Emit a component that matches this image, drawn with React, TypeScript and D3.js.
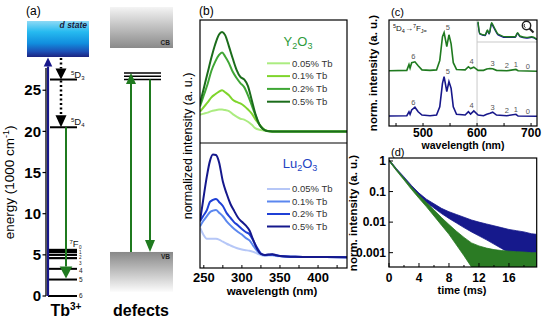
import React from 'react';
import * as d3 from 'd3';

const FONT = "'Liberation Sans', Arial, Helvetica, sans-serif";

// ---------- (a) energy level diagram ----------
const energyTicks = [0, 5, 10, 15, 20, 25];
const tbFLabels = ['6', '5', '4', '3', '2', '1', '0'];
const tbFEnergies = [0, 2.0, 3.3, 4.6, 5.0, 5.35, 5.6];
const tbDLabels = ['3', '4'];
const tbDEnergies = [26.3, 20.5];
const defectEnergies = [26.3, 26.7, 27.1];
const vbTopEnergy = 5.35;

// ---------- (b) excitation spectra ----------
const excWlY = [245, 250, 255, 260, 265, 270, 274, 278, 283, 288, 293, 298, 303, 308, 313, 318, 323, 328, 333, 340, 360, 380, 400, 420, 438];
const excY005 = [.17, .18, .19, .205, .213, .22, .22, .215, .205, .175, .15, .13, .122, .1, .07, .035, .022, .015, .01, .006, .005, .005, .005, .005, .005];
const excY01 = [.2, .245, .29, .34, .37, .395, .41, .39, .36, .315, .295, .28, .255, .22, .18, .12, .075, .032, .012, .006, .005, .005, .005, .005, .005];
const excY02 = [.25, .36, .47, .6, .69, .755, .78, .74, .675, .59, .53, .48, .44, .36, .26, .16, .07, .03, .01, .006, .005, .005, .005, .005, .005];
const excY05 = [.28, .43, .58, .73, .86, .955, .98, .95, .84, .72, .61, .54, .515, .45, .31, .17, .074, .028, .01, .006, .005, .005, .005, .005, .005];

const excWlL = [245, 249, 254, 258, 262, 266, 270, 275, 280, 285, 290, 295, 300, 305, 310, 315, 320, 325, 330, 335, 340, 345, 350, 370, 390, 410, 438];
const excL005 = [.28, .215, .17, .17, .17, .168, .16, .14, .12, .103, .087, .073, .063, .057, .051, .04, .025, .01, 0, .004, .006, 0, -.003, -.008, -.01, -.01, -.012];
const excL01 = [.29, .34, .39, .43, .445, .45, .425, .39, .34, .30, .265, .235, .21, .178, .153, .10, .05, .018, .008, .009, .011, .005, 0, -.008, -.01, -.01, -.012];
const excL02 = [.34, .39, .45, .53, .55, .56, .53, .49, .42, .375, .33, .30, .265, .235, .213, .15, .08, .025, .01, .012, .015, .007, 0, -.008, -.01, -.01, -.012];
const excL05 = [.34, .54, .78, .93, .995, .99, .92, .73, .61, .51, .44, .375, .335, .30, .25, .155, .07, .02, .01, .015, .018, .008, 0, -.008, -.01, -.01, -.012];

const concLabels = ['0.05% Tb', '0.1% Tb', '0.2% Tb', '0.5% Tb'];
const excTicks = [250, 300, 350, 400];

// ---------- (c) emission spectra ----------
const emWl = [437, 470, 474, 476, 479, 485, 491, 498, 513, 525, 531, 536, 539, 544, 548, 552, 556, 562, 578, 584, 588, 594, 602, 612, 618, 624, 629, 636, 655, 672, 676, 711];
const emLu = [.015, .022, .11, .053, .15, .21, .11, .037, .022, .037, .22, .74, .89, .56, .78, .63, .22, .053, .037, .11, .06, .13, .037, .022, .053, .075, .1, .037, .022, .053, .015, .01];
const emY = [.02, .03, .16, .08, .2, .22, .13, .04, .03, .04, .25, .78, .87, .56, .82, .62, .2, .05, .04, .11, .07, .1, .03, .03, .06, .07, .067, .03, .02, .05, .02, .01];
const emPeakLabels = ['6', '5', '4', '3', '2', '1', '0'];
const emPeakWl = [482, 546, 590, 629, 655, 672, 694];
const emTicks = [500, 600, 700];
const insetWl = [600, 603, 612, 616, 619, 623, 627, 634, 649, 663, 667, 671, 682, 691, 700];
const insetY = [.92, .33, .25, .5, .33, .86, .66, .3, .16, .16, .37, .2, .13, .16, .03];
const insetLu = [.88, .3, .22, .45, .3, .8, .6, .26, .13, .13, .33, .17, .1, .13, .02];

// ---------- (d) decay curves (log10 of normalized intensity) ----------
const decayT = [0, 0.5, 1, 2, 3, 4, 5, 6, 7, 8, 9, 10, 11, 12, 13, 14, 15, 16, 17, 18, 19, 19.7];
const blueUpper = [0.04, -0.1, -0.25, -0.52, -0.8, -1.05, -1.25, -1.4, -1.55, -1.66, -1.75, -1.84, -1.93, -2.0, -2.06, -2.12, -2.18, -2.24, -2.28, -2.32, -2.38, -2.4];
const blueLower = [0.0, -0.15, -0.3, -0.58, -0.87, -1.14, -1.36, -1.54, -1.72, -1.88, -2.03, -2.18, -2.32, -2.45, -2.58, -2.72, -2.86, -3.0, -3.15, -3.3, -3.47, -3.47];
const greenUpper = [0.04, -0.11, -0.27, -0.56, -0.85, -1.12, -1.36, -1.6, -1.85, -2.08, -2.3, -2.5, -2.68, -2.78, -2.85, -2.9, -2.93, -2.95, -2.97, -2.98, -3.0, -3.0];
const greenLower = [0.0, -0.16, -0.32, -0.62, -0.93, -1.22, -1.5, -1.8, -2.1, -2.4, -2.75, -3.1, -3.47, -3.47, -3.47, -3.47, -3.47, -3.47, -3.47, -3.47, -3.47, -3.47];
const decayXTicks = [0, 4, 8, 12, 16];
const decayYTicks = [1, 0.1, 0.01, 0.001];
const decayYLabels = ['1', '0.1', '0.01', '0.001'];

const greenShades = ['#abec80', '#7fd52c', '#3fa635', '#1b6c1b'];
const blueShades = ['#b6c7f7', '#5b87ef', '#1f40d6', '#15188c'];
const GREEN = '#1f7a1f';
const NAVY = '#17178a';

function Arrow({ x, y1, y2, color, hw, hl, w, dash }: any) {
  const dir = y2 > y1 ? 1 : -1;
  const base = y2 - dir * hl;
  return (
    <g>
      <line x1={x} x2={x} y1={y1} y2={base} stroke={color} strokeWidth={w} strokeDasharray={dash} />
      <path d={`M${x - hw},${base} L${x + hw},${base} L${x},${y2} Z`} fill={color} />
    </g>
  );
}

export default function App() {
  // ---- (a)
  const eY = d3.scaleLinear().domain([0, 27.7]).range([296, 68]);

  // ---- (b)
  const xB = d3.scaleLinear().domain([245, 438]).range([200, 347]);
  const yBtop = d3.scaleLinear().domain([0, 1]).range([132, 30]);
  const yBbot = d3.scaleLinear().domain([0, 1]).range([256, 154]);
  const lineBtop = d3.line<number>().x((_, i) => xB(excWlY[i])).y(d => yBtop(d)).curve(d3.curveMonotoneX);
  const lineBbot = d3.line<number>().x((_, i) => xB(excWlL[i])).y(d => yBbot(d)).curve(d3.curveMonotoneX);
  const ySeries = [excY005, excY01, excY02, excY05];
  const lSeries = [excL005, excL01, excL02, excL05];

  // ---- (c)
  const xC = d3.scaleLinear().domain([437, 711]).range([389, 537]);
  const yC = d3.scaleLinear().domain([0, 1]).range([116.7, 71.7]);
  const lineCLu = d3.line<number>().x((_, i) => xC(emWl[i])).y(d => yC(d));
  const lineCY = d3.line<number>().x((_, i) => xC(emWl[i])).y(d => yC(d + 1));
  const xIn = d3.scaleLinear().domain([600, 700]).range([478, 537]);
  const yIn = d3.scaleLinear().domain([0, 1]).range([40, 20]);
  const lineIn = d3.line<number>().x((_, i) => xIn(insetWl[i])).y(d => yIn(d)).curve(d3.curveMonotoneX);
  const peakMax = (arr: number[], wl: number) => {
    let m = 0;
    emWl.forEach((w, i) => { if (Math.abs(w - wl) <= 8 && arr[i] > m) m = arr[i]; });
    return m;
  };

  // ---- (d)
  const xD = d3.scaleLinear().domain([0, 19.7]).range([389, 536.7]);
  const yD = d3.scaleLog().domain([Math.pow(10, -3.469), Math.pow(10, 0.098)]).range([267, 158]);
  const areaD = (up: number[], lo: number[]) =>
    d3.area<number>().x((_, i) => xD(decayT[i])).y0((_, i) => yD(Math.pow(10, lo[i]))).y1((_, i) => yD(Math.pow(10, up[i])))(decayT);

  const tickFont = { fontFamily: FONT, fontWeight: 700 as const };

  return (
    <svg width={550} height={322} viewBox="0 0 550 322"
      style={{ position: 'absolute', left: 0, top: 0, background: '#fff' }} fontFamily={FONT}>
      <defs>
        <linearGradient id="dGrad" x1="0" y1="0" x2="0" y2="1">
          <stop offset="0%" stopColor="#8edaf5" />
          <stop offset="30%" stopColor="#26baf0" />
          <stop offset="62%" stopColor="#118ede" />
          <stop offset="85%" stopColor="#1d4fb5" />
          <stop offset="100%" stopColor="#1c2380" />
        </linearGradient>
        <linearGradient id="cbGrad" x1="0" y1="0" x2="0" y2="1">
          <stop offset="0%" stopColor="#f4f4f4" />
          <stop offset="100%" stopColor="#8a8a8a" />
        </linearGradient>
        <linearGradient id="vbGrad" x1="0" y1="0" x2="0" y2="1">
          <stop offset="0%" stopColor="#888" />
          <stop offset="100%" stopColor="#fcfcfc" />
        </linearGradient>
        <clipPath id="clipBtop"><rect x={200} y={20} width={147} height={123} /></clipPath>
        <clipPath id="clipBbot"><rect x={200} y={143} width={147} height={125} /></clipPath>
        <clipPath id="clipC"><rect x={389} y={20} width={148} height={106} /></clipPath>
        <clipPath id="clipD"><rect x={389} y={158} width={147.7} height={109} /></clipPath>
      </defs>

      {/* ================= (a) ================= */}
      <text x={26} y={15} fontSize={12}>(a)</text>
      <rect x={27} y={21} width={62} height={36} fill="url(#dGrad)" />
      <text x={87} y={28} fontSize={8.5} fontStyle="italic" fontWeight={700} textAnchor="end" fill="#1b1b3a">d state</text>

      <line x1={46} x2={46} y1={eY(27.7)} y2={eY(0)} stroke="#000" strokeWidth={1.3} />
      {energyTicks.map(t => (
        <g key={t}>
          <line x1={42.5} x2={46} y1={eY(t)} y2={eY(t)} stroke="#000" strokeWidth={1.2} />
          <text x={41} y={eY(t)} dy="0.35em" fontSize={15} textAnchor="end" {...tickFont}>{t}</text>
        </g>
      ))}
      <text transform={`translate(14,${eY(13.8)}) rotate(-90)`} fontSize={13.5} textAnchor="middle">
        <tspan>energy (1000 cm</tspan><tspan dy={-5} fontSize={9}>-1</tspan><tspan dy={5}>)</tspan>
      </text>

      {tbFEnergies.map((e, i) => (
        <line key={'f' + i} x1={48} x2={77} y1={eY(e)} y2={eY(e)} stroke="#000" strokeWidth={i >= 3 ? 2.2 : 2} />
      ))}
      <text x={79} y={eY(tbFEnergies[0])} dy="0.35em" fontSize={6.5} fill="#222">{tbFLabels[0]}</text>
      <text x={79} y={eY(tbFEnergies[1])} dy="0.35em" fontSize={6.5} fill="#222">{tbFLabels[1]}</text>
      <text x={79} y={eY(tbFEnergies[2]) + 1.5} dy="0.35em" fontSize={6.5} fill="#222">{tbFLabels[2]}</text>
      <text fontSize={9.5} fill="#111">
        <tspan x={69.5} y={eY(5.6) - 5.5} fontSize={6}>7</tspan>
        <tspan x={72.8} y={eY(5.6) - 2.5}>F</tspan>
        <tspan x={79} y={eY(5.6) - 1} fontSize={4.6}>{tbFLabels[6]}</tspan>
        <tspan x={79} y={eY(5.6) + 4.2} fontSize={4.6} fill="#222">{tbFLabels[5]}</tspan>
        <tspan x={79} y={eY(5.6) + 9.4} fontSize={4.6} fill="#222">{tbFLabels[4]}</tspan>
        <tspan x={79} y={eY(5.6) + 14.6} fontSize={4.6} fill="#222">{tbFLabels[3]}</tspan>
      </text>
      {tbDEnergies.map((e, i) => (
        <g key={'d' + i}>
          <line x1={50} x2={77} y1={eY(e)} y2={eY(e)} stroke="#000" strokeWidth={2} />
          <text x={71} y={eY(e) - 2} fontSize={9.5} fill="#111">
            <tspan fontSize={6} dy={-3}>5</tspan><tspan dy={3}>D</tspan><tspan fontSize={6} dy={2}>{tbDLabels[i]}</tspan>
          </text>
        </g>
      ))}
      <Arrow x={48} y1={eY(0)} y2={57.5} color={NAVY} hw={4.3} hl={9} w={2.2} />
      <Arrow x={61} y1={58} y2={eY(26.3)} color="#000" hw={5.5} hl={11} w={2.5} dash="2 2.5" />
      <Arrow x={61} y1={eY(26.3) + 1} y2={eY(20.5)} color="#000" hw={5.5} hl={12} w={2.5} dash="2 2.5" />
      <Arrow x={66} y1={eY(20.5)} y2={eY(2.0) - 1} color={GREEN} hw={6.3} hl={12} w={2} />

      <rect x={110} y={7} width={63} height={41} fill="url(#cbGrad)" />
      <text x={170} y={45} fontSize={6.5} fontWeight={700} textAnchor="end" fill="#222">CB</text>
      <rect x={110} y={eY(vbTopEnergy)} width={63} height={40} fill="url(#vbGrad)" />
      <text x={170} y={eY(vbTopEnergy) + 7} fontSize={6.5} fontWeight={700} textAnchor="end" fill="#222">VB</text>
      {defectEnergies.map((e, i) => (
        <line key={'df' + i} x1={124} x2={161} y1={eY(e)} y2={eY(e)} stroke="#000" strokeWidth={1.6} />
      ))}
      <Arrow x={131} y1={eY(vbTopEnergy)} y2={eY(27.1)} color={GREEN} hw={5} hl={11} w={2} />
      <Arrow x={150} y1={eY(26.3)} y2={eY(vbTopEnergy)} color={GREEN} hw={5} hl={12} w={2} />

      <text x={66} y={316} fontSize={16} fontWeight={700} textAnchor="middle">
        <tspan>Tb</tspan><tspan dy={-6} fontSize={10}>3+</tspan>
      </text>
      <text x={141} y={316} fontSize={16} fontWeight={700} textAnchor="middle">defects</text>

      {/* ================= (b) ================= */}
      <text x={199} y={15} fontSize={12}>(b)</text>
      <g clipPath="url(#clipBtop)">
        {ySeries.map((s, i) => (
          <path key={'bt' + i} d={lineBtop(s) || ''} fill="none" stroke={greenShades[i]} strokeWidth={2} />
        ))}
      </g>
      <g clipPath="url(#clipBbot)">
        {lSeries.map((s, i) => (
          <path key={'bb' + i} d={lineBbot(s) || ''} fill="none" stroke={blueShades[i]} strokeWidth={2} />
        ))}
      </g>
      <rect x={200} y={20} width={147} height={248} fill="none" stroke="#000" strokeWidth={1.2} />
      <line x1={200} x2={347} y1={143} y2={143} stroke="#000" strokeWidth={1.2} />
      {[250, 275, 300, 325, 350, 375, 400, 425].map(t => (
        <line key={'bx' + t} x1={xB(t)} x2={xB(t)} y1={268} y2={265} stroke="#000" strokeWidth={1} />
      ))}
      {excTicks.map(t => (
        <text key={'bl' + t} x={xB(t)} y={282} fontSize={13} textAnchor="middle" {...tickFont}>{t}</text>
      ))}
      <text x={272} y={295} fontSize={11.5} fontWeight={700} textAnchor="middle">wavelength (nm)</text>
      <text transform="translate(192,146) rotate(-90)" fontSize={12.5} textAnchor="middle">normalized intensity (a. u.)</text>

      <text x={298} y={46} fontSize={13} textAnchor="middle" fill="#2e9b3a">
        <tspan>Y</tspan><tspan fontSize={9} dy={3}>2</tspan><tspan dy={-3}>O</tspan><tspan fontSize={9} dy={3}>3</tspan>
      </text>
      {concLabels.map((c, i) => (
        <g key={'ly' + i}>
          <line x1={267} x2={290} y1={63.3 + i * 12.8} y2={63.3 + i * 12.8} stroke={greenShades[i]} strokeWidth={2} />
          <text x={292} y={63.3 + i * 12.8} dy="0.35em" fontSize={9.5} fill="#333">{c}</text>
        </g>
      ))}
      <text x={300} y={168} fontSize={13} textAnchor="middle" fill="#2343c2">
        <tspan>Lu</tspan><tspan fontSize={9} dy={3}>2</tspan><tspan dy={-3}>O</tspan><tspan fontSize={9} dy={3}>3</tspan>
      </text>
      {concLabels.map((c, i) => (
        <g key={'ll' + i}>
          <line x1={267} x2={290} y1={189 + i * 12.5} y2={189 + i * 12.5} stroke={blueShades[i]} strokeWidth={2} />
          <text x={292} y={189 + i * 12.5} dy="0.35em" fontSize={9.5} fill="#333">{c}</text>
        </g>
      ))}

      {/* ================= (c) ================= */}
      <text x={391} y={16} fontSize={11}>(c)</text>
      <line x1={xC(600)} x2={xC(600)} y1={20} y2={126} stroke="#c9c9c9" strokeWidth={1} />
      <line x1={xC(600)} x2={537} y1={42} y2={42} stroke="#c9c9c9" strokeWidth={1} />
      <g clipPath="url(#clipC)">
        <path d={lineCLu(emLu) || ''} fill="none" stroke={NAVY} strokeWidth={1.6} />
        <path d={lineCY(emY) || ''} fill="none" stroke={GREEN} strokeWidth={1.6} />
        <path d={lineIn(insetLu) || ''} fill="none" stroke={NAVY} strokeWidth={1.4} />
        <path d={lineIn(insetY) || ''} fill="none" stroke={GREEN} strokeWidth={1.4} />
      </g>
      <circle cx={526.5} cy={25.5} r={4.2} fill="none" stroke="#222" strokeWidth={1.4} />
      <path d="M524.8,24 A2,2 0 0 0 525.5,27.5" fill="none" stroke="#222" strokeWidth={1} />
      <line x1={529.5} y1={28.5} x2={533.5} y2={32.5} stroke="#222" strokeWidth={2} />
      {emPeakLabels.map((l, i) => (
        <g key={'pl' + i}>
          <text x={xC(emPeakWl[i])} y={yC(1 + peakMax(emY, emPeakWl[i])) - 5} dy="0.35em" fontSize={7.5} textAnchor="middle" fill="#555">{l}</text>
          <text x={xC(emPeakWl[i])} y={yC(peakMax(emLu, emPeakWl[i])) - 5} dy="0.35em" fontSize={7.5} textAnchor="middle" fill="#555">{l}</text>
        </g>
      ))}
      <text x={393} y={31} fontSize={8} fill="#111">
        <tspan fontSize={5.5} dy={-3}>5</tspan><tspan dy={3}>D</tspan><tspan fontSize={5.5} dy={2}>4</tspan>
        <tspan dy={-2}>→</tspan><tspan fontSize={5.5} dy={-3}>7</tspan><tspan dy={3}>F</tspan>
        <tspan fontSize={5.5} dy={2}>J=</tspan>
      </text>
      <rect x={389} y={20} width={148} height={106} fill="none" stroke="#000" strokeWidth={1.2} />
      {[450, 500, 550, 600, 650, 700].map(t => (
        <line key={'cx' + t} x1={xC(t)} x2={xC(t)} y1={126} y2={123} stroke="#000" strokeWidth={1} />
      ))}
      {emTicks.map(t => (
        <text key={'cl' + t} x={xC(t)} y={137} fontSize={12} textAnchor="middle" {...tickFont}>{t}</text>
      ))}
      <text x={463} y={148.5} fontSize={10.5} fontWeight={700} textAnchor="middle">wavelength (nm)</text>
      <text transform="translate(377,73) rotate(-90)" fontSize={11.5} fontWeight={700} textAnchor="middle">norm. intensity (a. u.)</text>

      {/* ================= (d) ================= */}
      <text x={391} y={156} fontSize={11}>(d)</text>
      <g clipPath="url(#clipD)">
        <path d={areaD(blueUpper, blueLower) || ''} fill="#16198c" stroke="#16198c" strokeWidth={0.8} />
        <path d={areaD(greenUpper, greenLower) || ''} fill="#2b7b24" stroke="#2b7b24" strokeWidth={0.8} />
      </g>
      <rect x={389} y={158} width={147.7} height={109} fill="none" stroke="#000" strokeWidth={1.2} />
      {d3.range(0, 20, 2).map(t => (
        <line key={'dx' + t} x1={xD(t)} x2={xD(t)} y1={267} y2={t % 4 === 0 ? 263 : 265} stroke="#000" strokeWidth={1} />
      ))}
      {decayXTicks.map(t => (
        <text key={'dl' + t} x={xD(t)} y={282} fontSize={12} textAnchor="middle" {...tickFont}>{t}</text>
      ))}
      {decayYTicks.map((t, i) => (
        <g key={'dy' + i}>
          <line x1={389} x2={393} y1={yD(t)} y2={yD(t)} stroke="#000" strokeWidth={1} />
          <text x={386} y={yD(t)} dy="0.35em" fontSize={12} textAnchor="end" {...tickFont}>{decayYLabels[i]}</text>
        </g>
      ))}
      <text x={462} y={294} fontSize={11} fontWeight={700} textAnchor="middle">time (ms)</text>
      <text transform="translate(357,213) rotate(-90)" fontSize={11.5} fontWeight={700} textAnchor="middle">norm. intensity (a. u.)</text>
    </svg>
  );
}
